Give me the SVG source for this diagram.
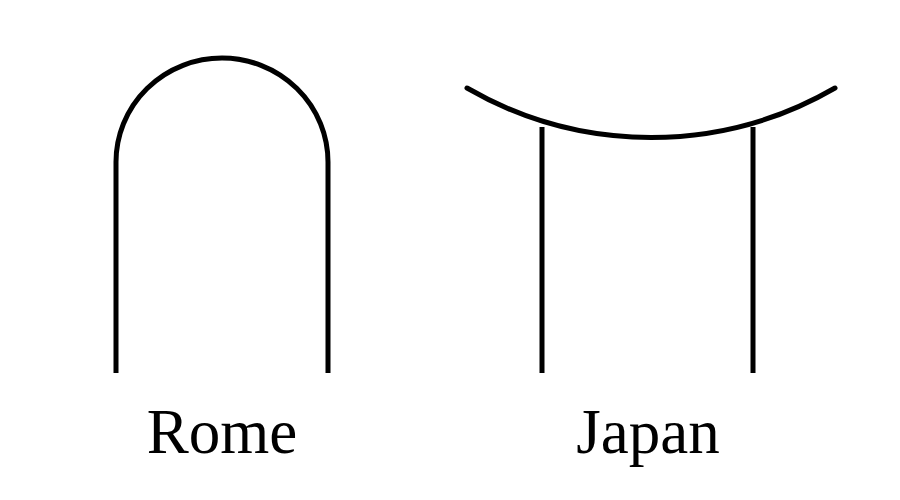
<svg xmlns="http://www.w3.org/2000/svg" width="900" height="500" viewBox="0 0 900 500">
<style>
.ln{fill:none;stroke:#000;stroke-width:5}
.rc{stroke-linecap:round}
.lb{font-family:"Liberation Serif","Times New Roman",serif;font-size:63px;fill:#000;text-anchor:middle}
</style>
<rect width="900" height="500" fill="#fff"/>
<g id="rome">
<path class="ln" d="M116,373 V162 A106,104 0 0 1 328,162 V373"/>
<text class="lb" x="222" y="453">Rome</text>
</g>
<g id="japan">
<path class="ln rc" d="M467,88 A367,367 0 0 0 835,88"/>
<path class="ln" d="M542,127 V373 M753,127 V373"/>
<text class="lb" x="648" y="453">Japan</text>
</g>
</svg>
